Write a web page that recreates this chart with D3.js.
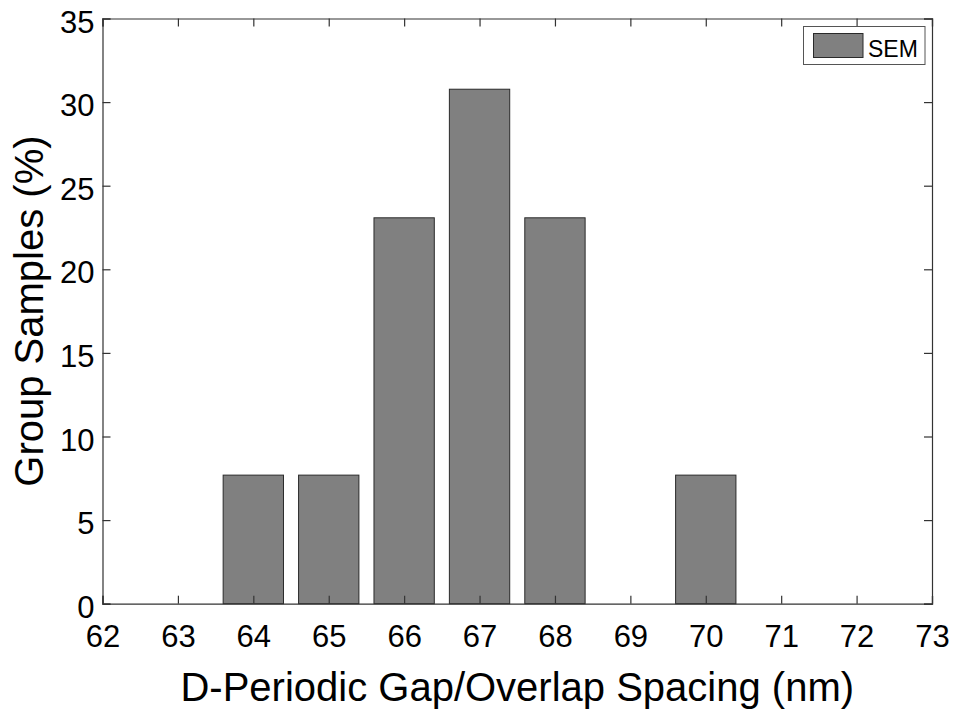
<!DOCTYPE html>
<html><head><meta charset="utf-8">
<script src="https://cdn.jsdelivr.net/npm/d3@7"></script>
<style>body{margin:0;background:#fff}</style>
</head><body>
<svg id="c" width="959" height="715"></svg>
<script>
const binCenters = [64, 65, 66, 67, 68, 70];
const semPercent = [7.69, 7.69, 23.08, 30.77, 23.08, 7.69];
const xTicks = [62,63,64,65,66,67,68,69,70,71,72,73];
const yTicks = [0,5,10,15,20,25,30,35];
const seriesName = "SEM";
const xLabel = "D-Periodic Gap/Overlap Spacing (nm)";
const yLabel = "Group Samples (%)";

const svg = d3.select("#c");
const L = 102.5, R = 932, T = 18.5, B = 603.7;
const x = d3.scaleLinear().domain([62,73]).range([L,R]);
const y = d3.scaleLinear().domain([0,35]).range([B,T]);
const font = "Arial, 'Liberation Sans', sans-serif";
const barW = 0.8;

// bars
svg.append("g").selectAll("rect").data(binCenters).join("rect")
  .attr("x", (d)=>x(d-barW/2))
  .attr("width", (d)=>x(d+barW/2)-x(d-barW/2))
  .attr("y", (d,i)=>y(semPercent[i]))
  .attr("height", (d,i)=>y(0)-y(semPercent[i]))
  .attr("fill","#808080").attr("stroke","#2a2a2a").attr("stroke-width",1);

// axes frame
const axisCol = "#333";
const gx = svg.append("g").attr("transform",`translate(0,${B})`)
  .call(d3.axisBottom(x).tickValues(xTicks).tickSize(-8).tickPadding(21).tickFormat(d3.format("d")));
const gxt = svg.append("g").attr("transform",`translate(0,${T})`)
  .call(d3.axisTop(x).tickValues(xTicks).tickSize(-8).tickFormat(""));
const gy = svg.append("g").attr("transform",`translate(${L},0)`)
  .call(d3.axisLeft(y).tickValues(yTicks).tickSize(-8).tickPadding(8).tickFormat(d3.format("d")));
const gyr = svg.append("g").attr("transform",`translate(${R},0)`)
  .call(d3.axisRight(y).tickValues(yTicks).tickSize(-8).tickFormat(""));
[gx,gxt,gy,gyr].forEach(g=>{
  g.select(".domain").attr("stroke",axisCol).attr("stroke-width",1.2);
  g.selectAll(".tick line").attr("stroke",axisCol).attr("stroke-width",1.2);
  g.selectAll("text").attr("font-family",font).attr("font-size",31).attr("fill","#000");
});
gx.selectAll(".tick text").attr("dy","0.71em");
gy.selectAll(".tick text").attr("dy","0.44em");

// labels
svg.append("text").attr("x",(L+R)/2).attr("y",701).attr("text-anchor","middle")
  .attr("font-family",font).attr("font-size",40).text(xLabel);
svg.append("text").attr("transform",`translate(43,${(T+B)/2}) rotate(-90)`).attr("text-anchor","middle")
  .attr("font-family",font).attr("font-size",40).text(yLabel);

// legend
const lg = svg.append("g");
lg.append("rect").attr("x",803.5).attr("y",26.5).attr("width",121.5).attr("height",38)
  .attr("fill","#fff").attr("stroke","#555").attr("stroke-width",1);
lg.append("rect").attr("x",813.5).attr("y",33.5).attr("width",49.5).attr("height",24)
  .attr("fill","#808080").attr("stroke","#2a2a2a").attr("stroke-width",1);
lg.append("text").attr("x",868).attr("y",56.5).attr("font-family",font).attr("font-size",23).text(seriesName);
</script>
</body></html>
